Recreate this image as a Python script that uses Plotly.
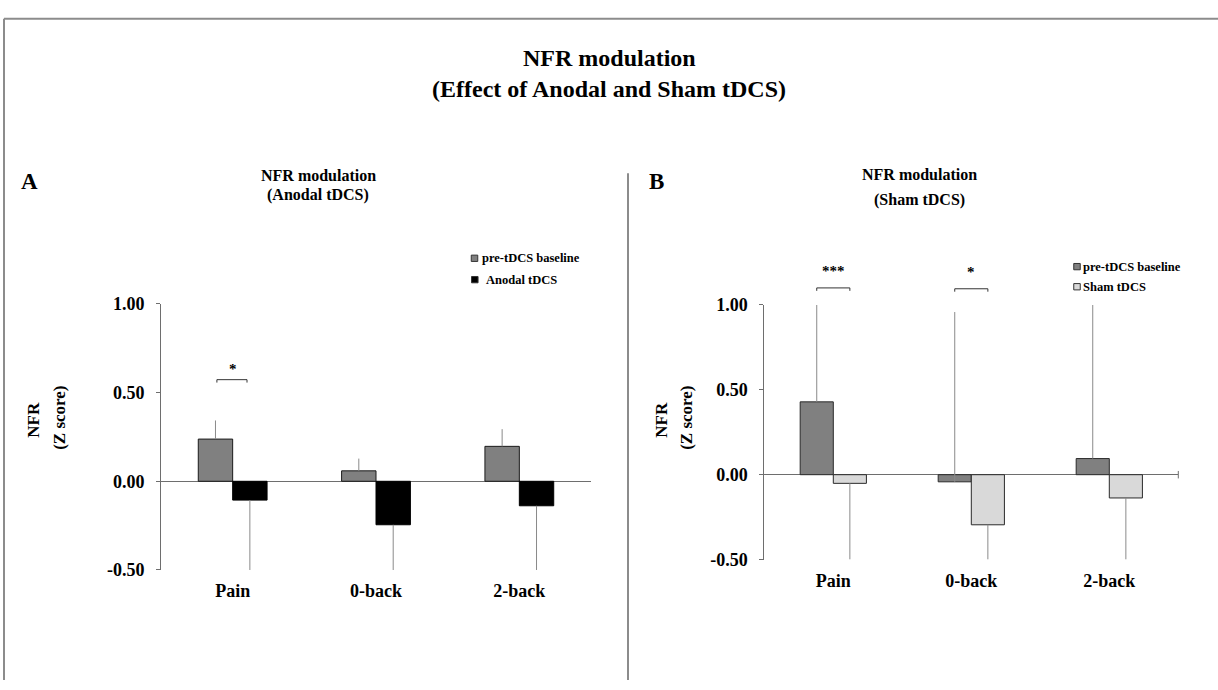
import plotly.graph_objects as go

# ---------------- data ----------------
categories = ["Pain", "0-back", "2-back"]

anodal_baseline = [0.238, 0.059, 0.197]
anodal_baseline_err = [0.105, 0.069, 0.097]
anodal_tdcs = [-0.106, -0.245, -0.138]
anodal_tdcs_err = [0.394, 0.255, 0.362]

sham_baseline = [0.429, -0.042, 0.095]
sham_baseline_err = [0.571, 1.000, 0.905]
sham_tdcs = [-0.051, -0.295, -0.137]
sham_tdcs_err = [0.449, 0.205, 0.363]

y_tickvals = [-0.5, 0.0, 0.5, 1.0]
y_ticktext = ["-0.50", "0.00", "0.50", "1.00"]
y_range = [-0.5, 1.0]

# significance: (category, bracket level, label)
anodal_sig = [("Pain", 0.573, "*")]
sham_sig = [("Pain", 1.100, "***"), ("0-back", 1.095, "*")]

series_names_a = ["pre-tDCS baseline", "Anodal tDCS"]
series_names_b = ["pre-tDCS baseline", "Sham tDCS"]

# ---------------- style ----------------
W, H = 1218, 690
FONT = "Liberation Serif, Times New Roman, serif"
C_GRAY = "#808080"
C_BLACK = "#000000"
C_LIGHT = "#d9d9d9"
C_AXIS = "#6e6e6e"
C_ERR = "#8a8a8a"
C_BORDER = "#8c8c8c"


def fx(p):
    return p / W


def fy(p):
    return 1 - p / H


def vfrac(v):
    return (v - y_range[0]) / (y_range[1] - y_range[0])


fig = go.Figure()


def add_bar(xa, ya, y, err, up, color, name, lc):
    fig.add_trace(go.Bar(
        x=categories, y=y, name=name, xaxis=xa, yaxis=ya,
        marker=dict(color=color, line=dict(color=lc, width=1)),
        error_y=dict(type="data", symmetric=False,
                     array=err if up else [0] * len(err),
                     arrayminus=[0] * len(err) if up else err,
                     width=0, thickness=1, color=C_ERR),
        showlegend=False,
    ))


add_bar("x", "y", anodal_baseline, anodal_baseline_err, True, C_GRAY, series_names_a[0], "#1a1a1a")
add_bar("x", "y", anodal_tdcs, anodal_tdcs_err, False, C_BLACK, series_names_a[1], "#000000")
add_bar("x2", "y2", sham_baseline, sham_baseline_err, True, C_GRAY, series_names_b[0], "#2a2a2a")
add_bar("x2", "y2", sham_tdcs, sham_tdcs_err, False, C_LIGHT, series_names_b[1], "#2a2a2a")

tickfont = dict(family=FONT, size=18, color="#000000", weight="bold")


def xaxis(dom, anchor):
    return dict(domain=dom, anchor=anchor, type="category", showline=False,
                ticks="", showgrid=False, zeroline=False, tickfont=tickfont,
                ticklabelstandoff=8, fixedrange=True)


def yaxis(dom, anchor):
    return dict(domain=dom, anchor=anchor, range=y_range, showline=True,
                linecolor=C_AXIS, linewidth=1, ticks="outside", ticklen=4,
                tickwidth=1, tickcolor=C_AXIS, tickvals=y_tickvals,
                ticktext=y_ticktext, showgrid=False, zeroline=True,
                zerolinecolor=C_AXIS, zerolinewidth=1, tickfont=tickfont,
                ticklabelstandoff=8, fixedrange=True)


dom_ax = [fx(161), fx(591)]
dom_ay = [fy(576.7), fy(302.7)]
dom_bx = [fx(764.3), fx(1178.3)]
dom_by = [fy(566), fy(303.7)]

fig.update_layout(
    width=W, height=H,
    margin=dict(l=0, r=0, t=0, b=0),
    paper_bgcolor="white", plot_bgcolor="white",
    barmode="group", bargap=0.52, bargroupgap=0,
    xaxis=xaxis(dom_ax, "y"), yaxis=yaxis(dom_ay, "x"),
    xaxis2=xaxis(dom_bx, "y2"), yaxis2=yaxis(dom_by, "x2"),
    font=dict(family=FONT, color="#000000"),
)

shapes = []
annotations = []

# outer frame and divider
shapes.append(dict(type="line", xref="paper", yref="paper", x0=fx(4), x1=1, y0=fy(9), y1=fy(9),
                   line=dict(color=C_BORDER, width=2)))
shapes.append(dict(type="line", xref="paper", yref="paper", x0=fx(4), x1=fx(4), y0=fy(9), y1=0,
                   line=dict(color=C_BORDER, width=2)))
shapes.append(dict(type="line", xref="paper", yref="paper", x0=fx(628), x1=fx(628), y0=fy(168), y1=0,
                   line=dict(color=C_BORDER, width=2)))

# end tick on right x axis
shapes.append(dict(type="line", xref="x2 domain", yref="y2", x0=1, x1=1, y0=-0.022, y1=0.022,
                   line=dict(color=C_AXIS, width=1)))


def add_sig(sig, xa, ya, dom_px_h, half_l, half_r, star_gap_px, size):
    for cat, level, label in sig:
        i = categories.index(cat)
        yt = vfrac(level)
        dy = 3.0 / dom_px_h
        col = "#333333"
        shapes.append(dict(type="line", xref=xa, yref=ya + " domain", x0=i - half_l, x1=i + half_r,
                           y0=yt, y1=yt, line=dict(color=col, width=1)))
        shapes.append(dict(type="line", xref=xa, yref=ya + " domain", x0=i - half_l, x1=i - half_l,
                           y0=yt, y1=yt - dy, line=dict(color=col, width=1)))
        shapes.append(dict(type="line", xref=xa, yref=ya + " domain", x0=i + half_r, x1=i + half_r,
                           y0=yt, y1=yt - dy, line=dict(color=col, width=1)))
        annotations.append(dict(xref=xa, yref=ya + " domain", x=i, y=yt + star_gap_px / dom_px_h,
                                text=label, showarrow=False, xanchor="center", yanchor="bottom",
                                font=dict(family=FONT, size=size, color="#000000", weight="bold")))


add_sig(anodal_sig, "x", "y", 576.7 - 302.7, 0.11, 0.10, 1, 15)
add_sig(sham_sig, "x2", "y2", 566 - 303.7, 0.12, 0.12, 7, 15)


def text(x, y, s, size, anchor="center", angle=0):
    annotations.append(dict(xref="paper", yref="paper", x=fx(x), y=fy(y), text=s,
                            showarrow=False, xanchor=anchor, yanchor="middle", textangle=angle,
                            font=dict(family=FONT, size=size, color="#000000", weight="bold")))


# main title
text(609, 49, "NFR modulation", 24)
text(609, 81, "(Effect of Anodal and Sham tDCS)", 24)

# panel labels and subtitles
text(29.5, 177, "A", 23)
text(656, 177, "B", 23)
text(318, 170, "NFR modulation", 16)
text(318, 191, "(Anodal tDCS)", 16)
text(919, 169, "NFR modulation", 16)
text(919, 196, "(Sham tDCS)", 16)

# y axis titles
text(34, 422, "NFR", 17, angle=-90)
text(60, 420, "(Z score)", 17, angle=-90)
text(662, 422, "NFR", 17, angle=-90)
text(687, 420, "(Z score)", 17, angle=-90)


# legends (manual)
def legend_item(cx, cy, color, name, tx):
    s = 6.5
    shapes.append(dict(type="rect", xref="paper", yref="paper",
                       x0=fx(cx - s / 2), x1=fx(cx + s / 2), y0=fy(cy + s / 2), y1=fy(cy - s / 2),
                       fillcolor=color, line=dict(color="#333333", width=1)))
    annotations.append(dict(xref="paper", yref="paper", x=fx(tx), y=fy(cy), text=name,
                            showarrow=False, xanchor="left", yanchor="middle",
                            font=dict(family=FONT, size=12.5, color="#000000", weight="bold")))


legend_item(474.5, 255.7, C_GRAY, series_names_a[0], 479.5)
legend_item(474.8, 277.7, C_BLACK, series_names_a[1], 483.5)
legend_item(1077, 264.3, C_GRAY, series_names_b[0], 1080.5)
legend_item(1077, 285.0, C_LIGHT, series_names_b[1], 1080.5)

fig.update_layout(shapes=shapes, annotations=annotations)

fig.write_html("out.html")
